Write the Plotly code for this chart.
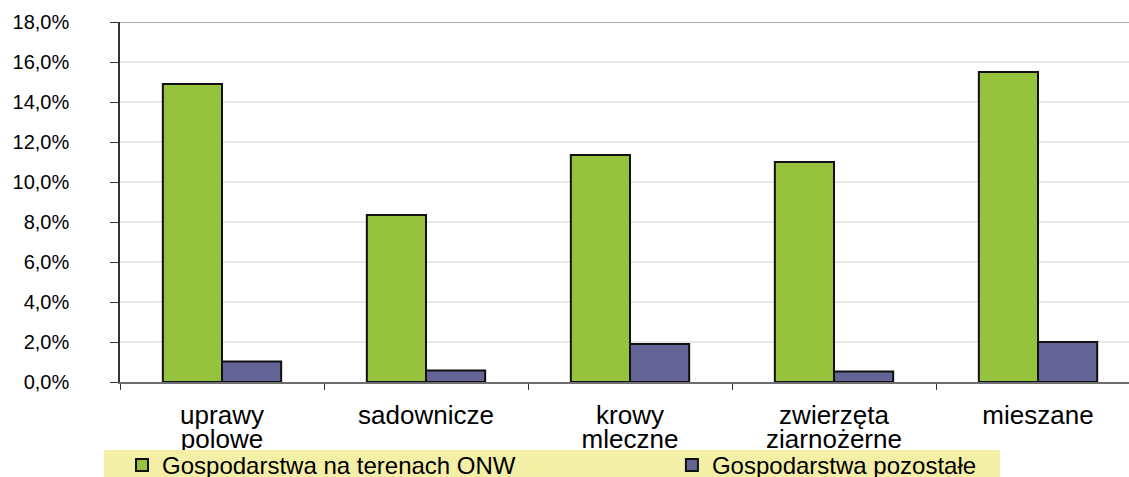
import plotly.graph_objects as go

# Farm types
categories = ["uprawy polowe", "sadownicze", "krowy mleczne", "zwierzęta ziarnożerne", "mieszane"]
# Category labels are printed on two lines
label_line1 = ["uprawy", "sadownicze", "krowy", "zwierzęta", "mieszane"]
label_line2 = ["polowe", "", "mleczne", "ziarnożerne", ""]

# Share of farms, percent
onw_values = [14.9, 8.35, 11.35, 11.0, 15.5]
other_values = [1.03, 0.58, 1.9, 0.53, 2.0]

series_names = ["Gospodarstwa na terenach ONW", "Gospodarstwa pozostałe"]

y_tick_values = [0, 2, 4, 6, 8, 10, 12, 14, 16, 18]
y_tick_labels = ["0,0%", "2,0%", "4,0%", "6,0%", "8,0%", "10,0%", "12,0%", "14,0%", "16,0%", "18,0%"]

FONT = "Liberation Sans, Arial, sans-serif"
X_RANGE = [-0.5, 4.446]

fig = go.Figure()
fig.add_trace(go.Bar(
    x=categories, y=onw_values, name=series_names[0], legend="legend",
    marker=dict(color="#96c23e", line=dict(color="#111111", width=2)),
))
fig.add_trace(go.Bar(
    x=categories, y=other_values, name=series_names[1], legend="legend2",
    marker=dict(color="#646496", line=dict(color="#111111", width=2)),
))
# empty trace that registers the overlaid axis carrying the second label line
fig.add_trace(go.Scatter(x=[], y=[], xaxis="x2", yaxis="y", showlegend=False, hoverinfo="skip"))

legend_common = dict(
    orientation="h", xanchor="left", yanchor="top", y=-0.1694,
    bgcolor="rgba(0,0,0,0)",
    font=dict(family=FONT, size=24, color="black"),
)

fig.update_layout(
    width=1129, height=477,
    margin=dict(l=120, r=0, t=22, b=95, autoexpand=False),
    paper_bgcolor="white", plot_bgcolor="white",
    barmode="group", bargap=0.42, bargroupgap=0,
    font=dict(family=FONT, color="black"),
    showlegend=True,
    legend=dict(x=0.002, **legend_common),
    legend2=dict(x=0.547, **legend_common),
)

fig.update_xaxes(
    range=X_RANGE,
    tickmode="array", tickvals=categories, ticktext=label_line1,
    showgrid=False,
    showline=True, linecolor="#6e6e6e", linewidth=1.5,
    ticks="outside", tickson="boundaries", ticklen=6, tickcolor="#333333", tickwidth=1,
    tickfont=dict(family=FONT, size=26, color="black"),
    ticklabelstandoff=9,
)

fig.update_layout(xaxis2=dict(
    overlaying="x", side="bottom", anchor="y", type="linear",
    range=X_RANGE,
    tickmode="array", tickvals=list(range(len(label_line2))), ticktext=label_line2,
    showgrid=False, showline=False, zeroline=False, ticks="",
    tickfont=dict(family=FONT, size=26, color="black"),
    ticklabelstandoff=39,
))

fig.update_yaxes(
    range=[0, 18],
    tickvals=y_tick_values, ticktext=y_tick_labels,
    showgrid=True, gridcolor="#e8e8e8", gridwidth=1.5,
    zeroline=False,
    showline=True, linecolor="#333333", linewidth=1.5,
    ticks="outside", ticklen=8, tickcolor="#333333", tickwidth=1,
    tickfont=dict(family=FONT, size=20, color="black"),
    ticklabelstandoff=37,
)

# darker rule along the top of the value axis
fig.add_shape(type="line", xref="paper", yref="y", x0=0, x1=1, y0=18, y1=18,
              line=dict(color="#a8a8a8", width=2), layer="below")

# pale yellow band behind the legend entries
fig.add_shape(type="rect", xref="paper", yref="paper",
              x0=(104 - 120) / 1009, x1=(1000 - 120) / 1009,
              y0=-(480 - 382) / 360, y1=-(450 - 382) / 360,
              fillcolor="#f4efa6", line=dict(width=0), layer="above")

fig.write_html("out.html")
